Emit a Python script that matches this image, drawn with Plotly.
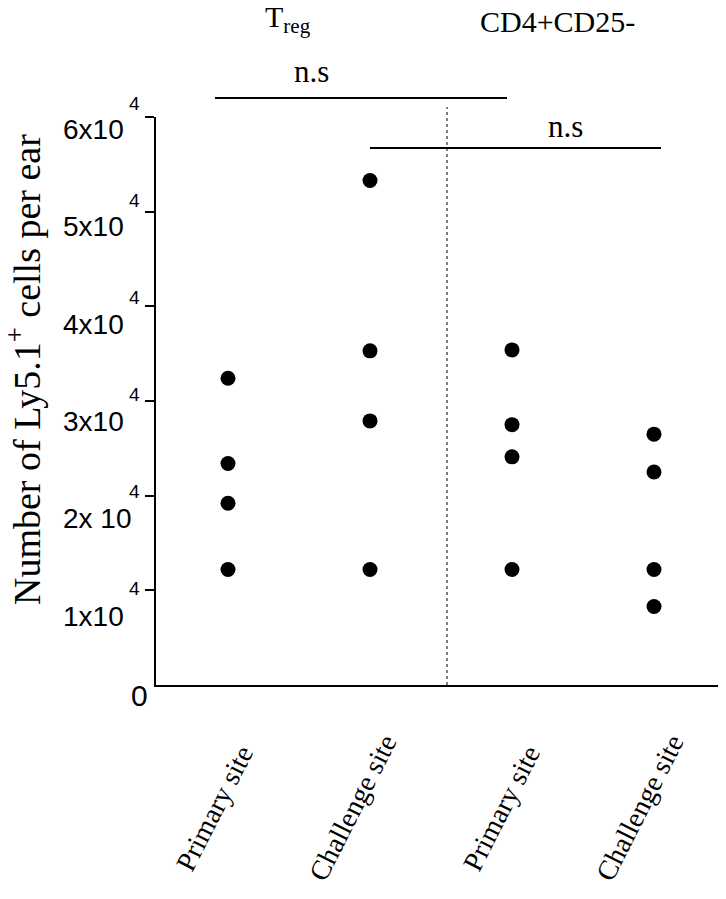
import plotly.graph_objects as go

# ---- data ----
groups = ["Treg Primary", "Treg Challenge", "CD4 Primary", "CD4 Challenge"]
x_labels = ["Primary site", "Challenge site", "Primary site", "Challenge site"]
treg_primary = [32400, 23400, 19200, 12200]
treg_challenge = [53300, 35300, 27900, 12200]
cd4_primary = [35400, 27500, 24100, 12200]
cd4_challenge = [26500, 22500, 12200, 8300]
tick_values = [10000, 20000, 30000, 40000, 50000, 60000]
tick_texts = ["1x10", "2x 10", "3x10", "4x10", "5x10", "6x10"]
tick_exponent = "4"

series = [treg_primary, treg_challenge, cd4_primary, cd4_challenge]

SERIF = "Liberation Serif, Times New Roman, serif"
SANS = "Liberation Sans, Arial, Helvetica, sans-serif"

# page has an 8px body margin; page coords = figure coords + 8
OFF = 8
PAGE_W, PAGE_H = 726, 899
W, H = PAGE_W - OFF, PAGE_H - 2 * OFF
# plot area in page pixels
AX_L, AX_T, AX_B = 156, 117, 685
L, R, T, B = AX_L - OFF, 0, AX_T - OFF, (OFF + H) - AX_B
PW, PH = W - L - R, H - T - B

def px_x(px):  # page pixel -> paper x
    return (px - AX_L) / PW

def px_y(py):  # page pixel -> paper y
    return (AX_B - py) / PH

fig = go.Figure()
xs, ys = [], []
for i, vals in enumerate(series):
    xs += [i] * len(vals)
    ys += vals
fig.add_trace(go.Scatter(
    x=xs, y=ys, mode="markers",
    marker=dict(size=15, color="black", line=dict(width=0)),
    showlegend=False, hoverinfo="y",
))

x0_px, x_step = 228, 142
xr = [-(x0_px - AX_L) / x_step, (PW - (x0_px - AX_L)) / x_step]

fig.update_layout(
    width=W, height=H, autosize=False,
    margin=dict(l=L, r=R, t=T, b=B, pad=0),
    paper_bgcolor="white", plot_bgcolor="white",
    showlegend=False,
    xaxis=dict(range=xr, showline=True, linecolor="black", linewidth=2,
               showgrid=False, zeroline=False, showticklabels=False, ticks=""),
    yaxis=dict(range=[0, 60000], showline=True, linecolor="black", linewidth=2,
               showgrid=False, zeroline=False, showticklabels=False,
               ticks="outside", ticklen=9, tickwidth=2, tickcolor="black",
               tickvals=tick_values),
)

ann = []
# y tick labels with exponent
for v, t in zip(tick_values, tick_texts):
    k = (60000 - v) / 10000
    ann.append(dict(xref="paper", yref="y", x=px_x(61), y=v, xanchor="left", yanchor="middle",
                    yshift=-(12.5 + k * 2.7), text=t, showarrow=False,
                    font=dict(family=SANS, size=28, color="black")))
    ann.append(dict(xref="paper", yref="y", x=px_x(127), y=v, xanchor="left", yanchor="middle",
                    yshift=(13.5 - k * 2.3), text=tick_exponent, showarrow=False,
                    font=dict(family=SANS, size=19, color="black")))
ann.append(dict(xref="paper", yref="y", x=px_x(139), y=0, xanchor="center", yanchor="middle",
                yshift=-10, text="0", showarrow=False,
                font=dict(family=SANS, size=30, color="black")))

# y title
ann.append(dict(xref="paper", yref="paper", x=px_x(24), y=px_y(370), xanchor="center", yanchor="middle",
                text="Number of Ly5.1<sup>+</sup> cells per ear", textangle=-90, showarrow=False,
                font=dict(family=SERIF, size=38, color="black")))

# x category labels (rotated)
xshifts = [-14, -18, -11, -15]
for i, (lab, xs_) in enumerate(zip(x_labels, xshifts)):
    ann.append(dict(xref="x", yref="paper", x=i, y=px_y(808), xshift=xs_,
                    xanchor="center", yanchor="middle", text=lab, textangle=-63,
                    showarrow=False, font=dict(family=SERIF, size=28, color="black")))

# group headers
ann.append(dict(xref="paper", yref="paper", x=px_x(288), y=px_y(19), xanchor="center", yanchor="middle",
                text="T<sub>reg</sub>", showarrow=False, font=dict(family=SERIF, size=30, color="black")))
ann.append(dict(xref="paper", yref="paper", x=px_x(557), y=px_y(21), xanchor="center", yanchor="middle",
                text="CD4+CD25-", showarrow=False, font=dict(family=SERIF, size=30, color="black")))

# n.s labels
ann.append(dict(xref="paper", yref="paper", x=px_x(311), y=px_y(71), xanchor="center", yanchor="middle",
                text="n.s", showarrow=False, font=dict(family=SERIF, size=31, color="black")))
ann.append(dict(xref="paper", yref="paper", x=px_x(565), y=px_y(126), xanchor="center", yanchor="middle",
                text="n.s", showarrow=False, font=dict(family=SERIF, size=31, color="black")))
fig.update_layout(annotations=ann)

def dx(px):
    return (px - x0_px) / x_step

shapes = [
    dict(type="line", xref="x", yref="paper", x0=dx(215), x1=dx(507), y0=px_y(98), y1=px_y(98),
         line=dict(color="black", width=2)),
    dict(type="line", xref="x", yref="paper", x0=dx(370), x1=dx(661), y0=px_y(148), y1=px_y(148),
         line=dict(color="black", width=2)),
    dict(type="line", xref="x", yref="paper", x0=dx(447), x1=dx(447), y0=0, y1=px_y(107),
         line=dict(color="black", width=1, dash="dot")),
]
fig.update_layout(shapes=shapes)

fig.write_html("out.html")
